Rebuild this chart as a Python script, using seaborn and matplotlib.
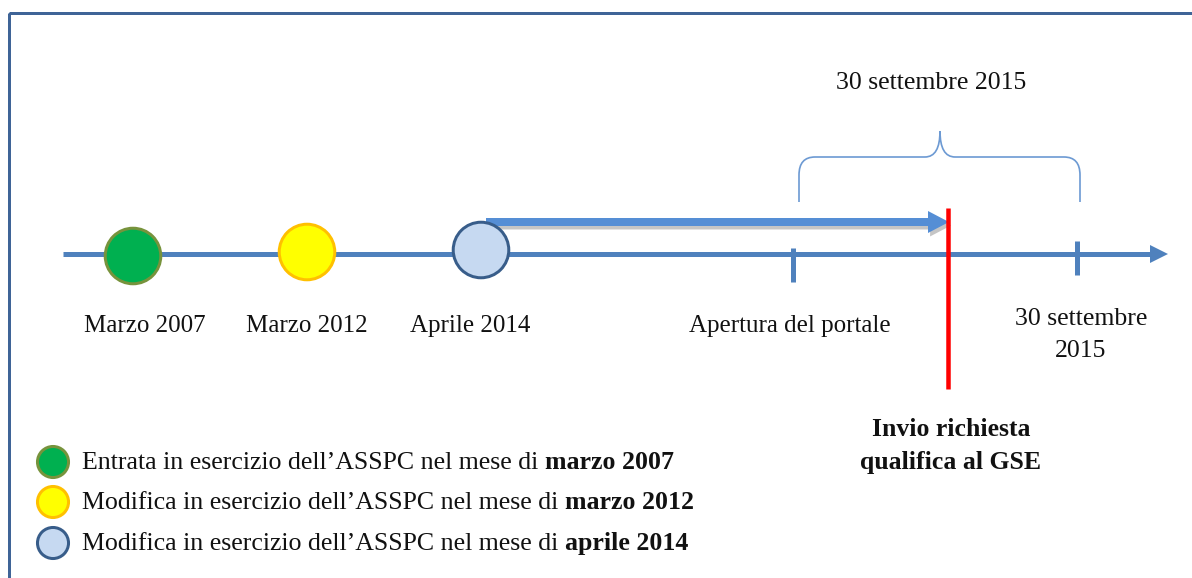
import matplotlib
matplotlib.use("Agg")
import matplotlib.pyplot as plt
import seaborn as sns
import pandas as pd
from matplotlib.patches import Rectangle, Polygon, FancyArrow, PathPatch
from matplotlib.path import Path
import matplotlib.patheffects as pe

# ---------------- data ----------------
event_labels = ["Marzo 2007", "Marzo 2012", "Aprile 2014"]
event_pos = [133, 307, 481]
event_level = [256, 252, 250]
event_label_pos = [145, 307, 470]
event_fill = ["#00b050", "#ffff00", "#c6d9f1"]
event_edge = ["#77933c", "#ffc000", "#385d8a"]

milestone_labels = ["Apertura del portale", "30 settembre\n2015"]
milestone_pos = [793, 1077]

request_pos = 948
request_label = "Invio richiesta\nqualifica al GSE"
window_label = "30 settembre 2015"

legend_plain = ["Entrata in esercizio dell\u2019ASSPC nel mese di ",
                "Modifica in esercizio dell\u2019ASSPC nel mese di ",
                "Modifica in esercizio dell\u2019ASSPC nel mese di "]
legend_bold = ["marzo 2007", "marzo 2012", "aprile 2014"]
legend_rows = [462, 502, 543]

# ---------------- style ----------------
sns.set_theme(style="white")
plt.rcParams["font.family"] = ["Liberation Serif", "DejaVu Serif"]

W, H = 1192, 578
fig = plt.figure(figsize=(W / 100, H / 100), dpi=100)
ax = fig.add_axes([0, 0, 1, 1])
ax.set_xlim(0, W)
ax.set_ylim(H, 0)
ax.axis("off")

axis_y = 254
line_col = "#4f81bd"
px = 0.72  # points per pixel at 100 dpi

# frame (only left and top visible)
ax.add_patch(Rectangle((9, 13), 1400, 800, fill=False, ec="#3f6497", lw=3 * px, zorder=1))

# main timeline
ax.plot([63, 1152], [axis_y, axis_y], color=line_col, lw=5 * px, solid_capstyle="butt", zorder=2)
ax.add_patch(Polygon([(1150, axis_y - 9), (1168, axis_y), (1150, axis_y + 9)],
                     closed=True, color=line_col, lw=0, zorder=2))

# milestone ticks
tick_spans = [(248, 282), (241, 275)]
for xpos, (y0, y1) in zip(milestone_pos, tick_spans):
    ax.plot([xpos, xpos], [y0, y1], color=line_col, lw=5 * px, solid_capstyle="butt", zorder=2)

# thick arrow from last event to request
arr = FancyArrow(event_pos[-1] + 5, 222, request_pos - event_pos[-1] - 4, 0,
                 width=8, head_width=22, head_length=21, length_includes_head=True,
                 color="#558ed5", lw=0, zorder=3)
arr.set_path_effects([pe.SimplePatchShadow(offset=(1.5, -2.5), shadow_rgbFace="#808080", alpha=0.45),
                      pe.Normal()])
ax.add_patch(arr)

# event circles via seaborn
df = pd.DataFrame({"pos": event_pos, "level": event_level, "label": event_labels})
sns.scatterplot(data=df, x="pos", y="level", hue="label",
                palette=dict(zip(event_labels, event_fill)), s=1600,
                linewidth=3 * px, legend=False, ax=ax, zorder=6)
ax.collections[-1].set_edgecolors(event_edge)

for lab, xpos in zip(event_labels, event_label_pos):
    ax.text(xpos, 326, lab, ha="center", va="center", fontsize=18, color="#111111")

# milestone labels
ax.text(790, 326, milestone_labels[0], ha="center", va="center", fontsize=18, color="#111111")
ax.text(1081, 335, milestone_labels[1], ha="center", va="center", fontsize=18.5,
        linespacing=1.62, color="#111111")

# red request line
ax.plot([request_pos, request_pos], [208, 389], color="#ff0000", lw=4.5 * px,
        solid_capstyle="butt", zorder=7)
ax.text(request_pos + 3, 446, request_label, ha="center", va="center", fontsize=18.5,
        fontweight="bold", linespacing=1.52, color="#111111")

# brace
verts = [(799, 202), (799, 175), (799, 157), (815, 157), (925, 157), (940, 157), (940, 131),
         (940, 157), (955, 157), (1064, 157), (1080, 157), (1080, 175), (1080, 202)]
codes = [Path.MOVETO, Path.LINETO, Path.CURVE3, Path.CURVE3, Path.LINETO, Path.CURVE3, Path.CURVE3,
         Path.CURVE3, Path.CURVE3, Path.LINETO, Path.CURVE3, Path.CURVE3, Path.LINETO]
ax.add_patch(PathPatch(Path(verts, codes), fill=False, ec="#6d9ad3", lw=1.4 * px * 1.2, zorder=2))
ax.text(931, 83, window_label, ha="center", va="center", fontsize=18.5, color="#111111")

# legend
leg = pd.DataFrame({"x": [53] * 3, "y": legend_rows, "label": event_labels})
sns.scatterplot(data=leg, x="x", y="y", hue="label",
                palette=dict(zip(event_labels, event_fill)), s=500,
                linewidth=3 * px, legend=False, ax=ax, zorder=6)
ax.collections[-1].set_edgecolors(event_edge)

for plain, bold, yy in zip(legend_plain, legend_bold, legend_rows):
    t = ax.text(82, yy + 1, plain, ha="left", va="center", fontsize=18.6, color="#111111")
    ax.annotate(bold, xy=(1, 0), xycoords=t, ha="left", va="bottom", fontsize=18.6,
                fontweight="bold", color="#111111")

fig.savefig("out.png", dpi=100)
